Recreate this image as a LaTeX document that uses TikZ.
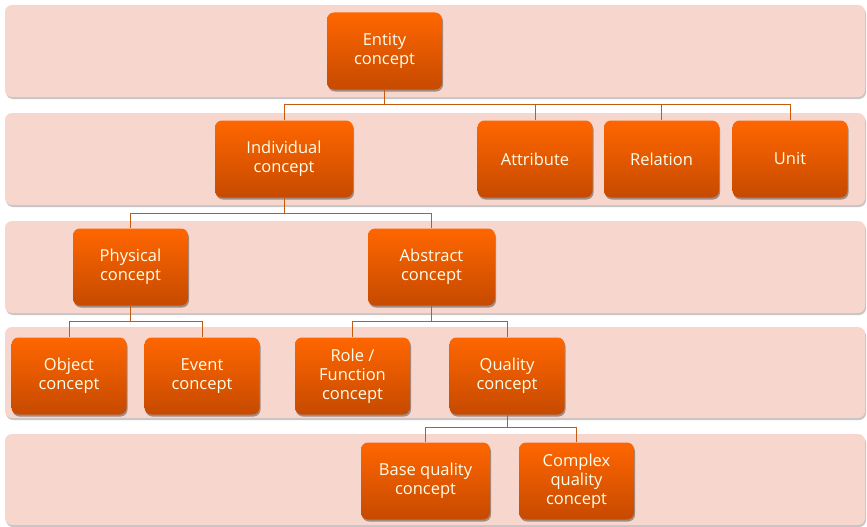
\documentclass[tikz,border=0pt]{standalone}
\usepackage{fontspec}
\setmainfont{Open Sans}
\usetikzlibrary{shadows}
\definecolor{BandClr}{RGB}{247,214,205}
\definecolor{BoxTop}{RGB}{255,102,0}
\definecolor{BoxBot}{RGB}{198,74,0}
\definecolor{LineClr}{RGB}{197,90,17}

\begin{document}
\begin{tikzpicture}[x=1pt,y=-1pt,
  band/.style={fill=BandClr,rounded corners=7pt,
    drop shadow={shadow xshift=1pt,shadow yshift=-2pt,opacity=.45,fill=gray}},
  box/.style={rounded corners=7pt,top color=BoxTop,bottom color=BoxBot,
    text=white!92!yellow,align=center,inner sep=2pt,
    minimum width=115pt,minimum height=77pt,
    font=\fontsize{16.5}{19}\selectfont,
    drop shadow={shadow xshift=1pt,shadow yshift=-2pt,opacity=.35,fill=black}},
  conn/.style={draw=LineClr,line width=.9pt}]

\useasboundingbox (0,0) rectangle (867,527);

\path[band] (5,5) rectangle (865,97);
\path[band] (5,113) rectangle (865,205);
\path[band] (5,221) rectangle (865,313);
\path[band] (5,327) rectangle (865,418);
\path[band] (5,434) rectangle (865,525);

\node[box] (entity) at (384.5,51) {Entity\\concept};

\node[box,minimum width=138pt] (individual) at (284,159) {Individual\\concept};
\node[box] (attribute) at (535,159) {Attribute};
\node[box] (relation) at (661.5,159) {Relation};
\node[box] (unit) at (790,159) {Unit};

\node[box] (physical) at (130.5,267) {Physical\\concept};
\node[box,minimum width=127pt] (abstract) at (431.5,267) {Abstract\\concept};

\node[box] (object) at (69,376) {Object\\concept};
\node[box] (event) at (202,376) {Event\\concept};
\node[box] (role) at (352.5,376) {Role /\\Function\\concept};
\node[box] (quality) at (507,376) {Quality\\concept};

\node[box,minimum width=129pt] (basequal) at (425.5,481) {Base quality\\concept};
\node[box] (complexqual) at (576.5,481) {Complex\\quality\\concept};

\foreach \child in {individual,attribute,relation,unit}
  \draw[conn] (entity.south) -- ++(0,15) -| (\child.north);
\foreach \child in {physical,abstract}
  \draw[conn] (individual.south) -- ++(0,16) -| (\child.north);
\foreach \child in {object,event}
  \draw[conn] (physical.south) -- ++(0,16) -| (\child.north);
\foreach \child in {role,quality}
  \draw[conn] (abstract.south) -- ++(0,16) -| (\child.north);
\foreach \child in {basequal,complexqual}
  \draw[conn] (quality.south) -- ++(0,13) -| (\child.north);

\end{tikzpicture}
\end{document}
